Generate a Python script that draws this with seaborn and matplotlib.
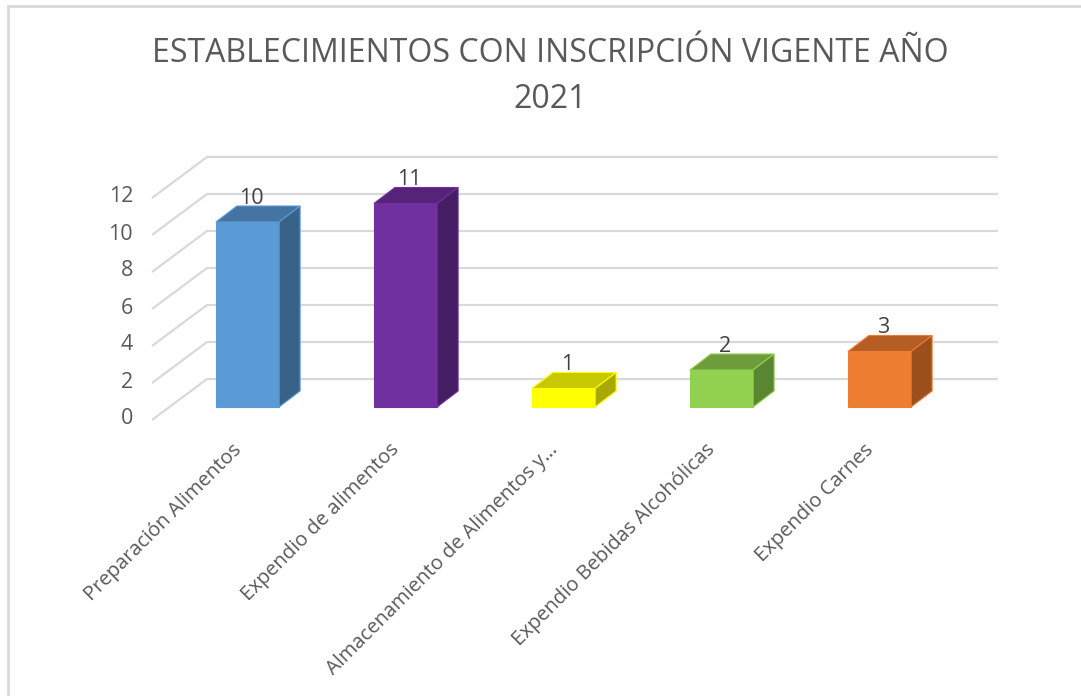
import numpy as np
import pandas as pd
import matplotlib
matplotlib.use("Agg")
import matplotlib.pyplot as plt
from matplotlib.patches import Polygon, Rectangle
import seaborn as sns

categorias = ["Preparación Alimentos", "Expendio de alimentos", "Almacenamiento de Alimentos y…",
              "Expendio Bebidas Alcohólicas", "Expendio Carnes"]
valores = [10, 11, 1, 2, 3]
ticks_y = [0, 2, 4, 6, 8, 10, 12]
titulo = ["ESTABLECIMIENTOS CON INSCRIPCIÓN VIGENTE AÑO", "2021"]

# colores: frente, tapa, lado
color_frente = ["#5B9BD5", "#7030A0", "#FFFF00", "#92D050", "#ED7D31"]
color_tapa = ["#4475A2", "#55237A", "#C8C800", "#6E9C3C", "#B55D22"]
color_lado = ["#386287", "#451D63", "#A8A800", "#5A8632", "#9A4F1D"]

sns.set_style("white")
plt.rcParams["font.family"] = ["Open Sans", "DejaVu Sans"]
gris = "#595959"
linea = "#D9D9D9"

W, H = 1081, 696
fig = plt.figure(figsize=(W / 100, H / 100), dpi=100)
ax = fig.add_axes([0, 0, 1, 1])

df = pd.DataFrame({"cat": categorias, "val": valores})
sns.barplot(data=df, x="cat", y="val", hue="cat", palette=color_frente, width=0.4,
            legend=False, ax=ax, saturation=1, zorder=3)

# escala: 158 px por categoria, 18.5 px por unidad
px_x = 1 / 158
px_y = 1 / 18.5
x0 = -247.5 * px_x
y0 = -(H - 407) * px_y
ax.set_xlim(x0, x0 + W * px_x)
ax.set_ylim(y0, y0 + H * px_y)
ax.set_axis_off()

# pared del fondo y lineas de guia
x_front = x0 + 152 * px_x
x_back = x0 + 207 * px_x
x_end = x0 + 998 * px_x
d_front = -13 * px_y
d_back = 28 * px_y
for v in ticks_y:
    ax.plot([x_front, x_back, x_end], [v + d_front, v + d_back, v + d_back],
            color=linea, lw=1.6, zorder=1, solid_capstyle="butt")
    ax.text(x0 + 133 * px_x, v + d_front + 1 * px_y, str(v), ha="right", va="center",
            fontsize=15.5, color=gris)

# caras 3D de las barras
ddx = 21 * px_x
ddy = 16 * px_y
for i, p in enumerate(ax.patches):
    xa = p.get_x()
    xb = xa + p.get_width()
    h = p.get_height()
    p.set_edgecolor(color_frente[i])
    p.set_linewidth(0.8)
    tapa = Polygon([(xa, h), (xb, h), (xb + ddx, h + ddy), (xa + ddx, h + ddy)],
                   closed=True, facecolor=color_tapa[i], edgecolor=color_frente[i], lw=0.8, zorder=3)
    lado = Polygon([(xb, 0), (xb + ddx, ddy), (xb + ddx, h + ddy), (xb, h)],
                   closed=True, facecolor=color_lado[i], edgecolor=color_frente[i], lw=0.8, zorder=3)
    ax.add_patch(tapa)
    ax.add_patch(lado)
    ax.text(xa + p.get_width() / 2 + 4 * px_x, h + ddy + 8 * px_y, str(valores[i]),
            ha="center", va="center", fontsize=15.5, color="#404040", zorder=4)

# etiquetas de categoria
for i, c in enumerate(categorias):
    ax.text(i - 9 * px_x, -40 * px_y, c, rotation=45, rotation_mode="anchor",
            ha="right", va="center", fontsize=14.5, color=gris)

# titulo
fig.text(550 / W, 1 - 53 / H, titulo[0], ha="center", va="center", fontsize=23, color=gris)
fig.text(550 / W, 1 - 99 / H, titulo[1], ha="center", va="center", fontsize=23, color=gris)

# marco del grafico
fig.patches.append(Rectangle((8 / W, -0.1), 1.2, 1.1 - 6 / H, transform=fig.transFigure,
                             fill=False, edgecolor=linea, lw=2))

fig.savefig("out.png", dpi=100)
